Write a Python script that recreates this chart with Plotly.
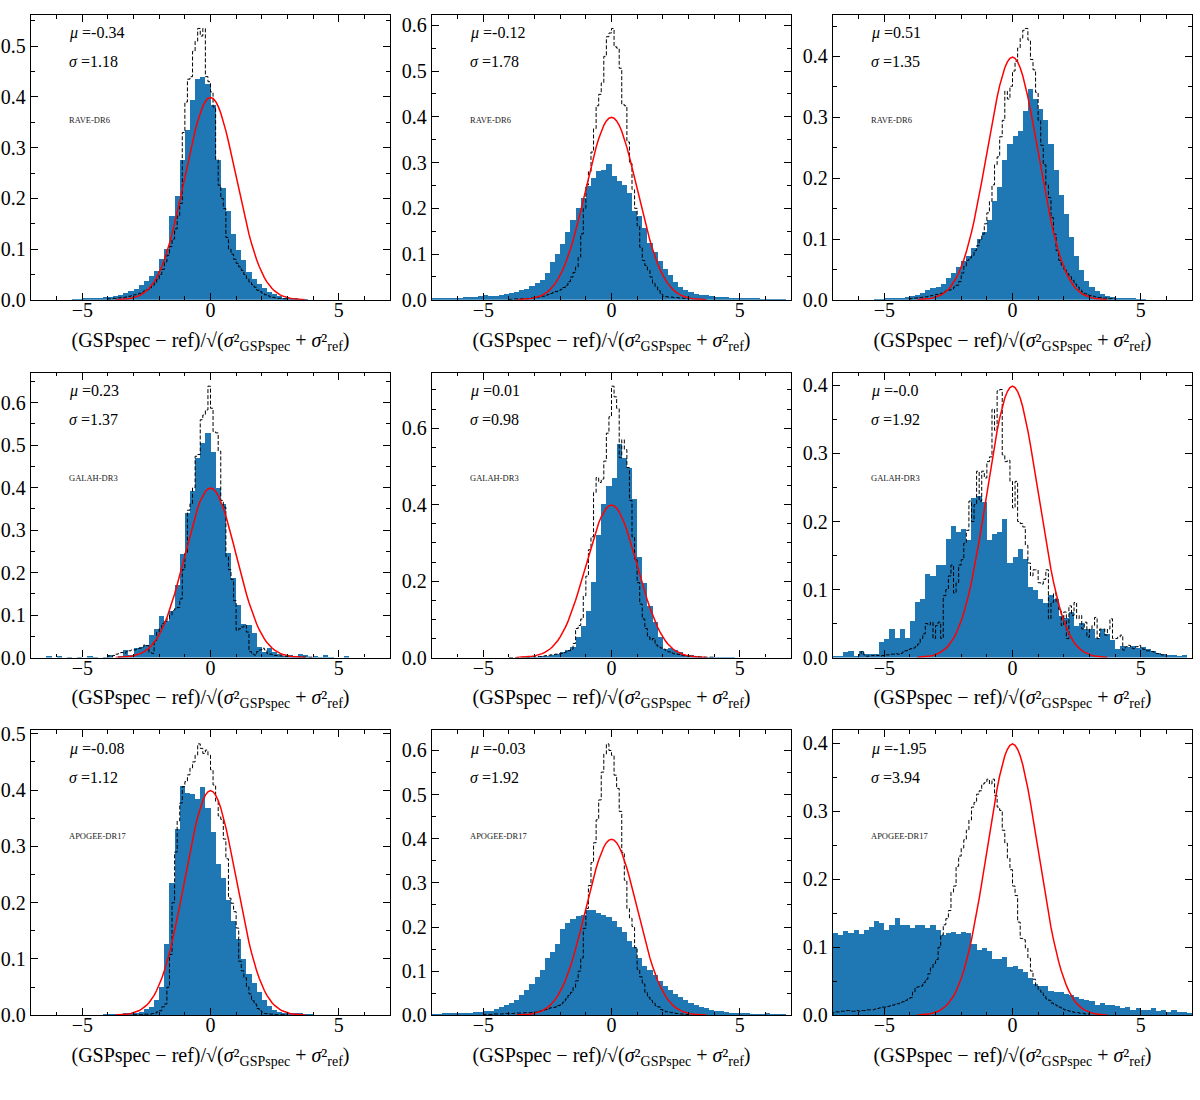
import numpy as np
import plotly.graph_objects as go
from plotly.subplots import make_subplots

# ---------------- data ----------------
SURVEYS = ["RAVE-DR6", "RAVE-DR6", "RAVE-DR6",
           "GALAH-DR3", "GALAH-DR3", "GALAH-DR3",
           "APOGEE-DR17", "APOGEE-DR17", "APOGEE-DR17"]
MU_LABELS = ["-0.34", "-0.12", "0.51", "0.23", "0.01", "-0.0", "-0.08", "-0.03", "-1.95"]
SIGMA_LABELS = ["1.18", "1.78", "1.35", "1.37", "0.98", "1.92", "1.12", "1.92", "3.94"]

# blue filled histograms: 70 bins of width 0.2 from -7 to 7
BLUE_START = -7.0
BLUE_WIDTH = 0.2
# dashed step histograms: bins of width 0.1 starting at the given edge
DASH_WIDTH = 0.1

blue_1 = [0, 0, 0, 0, 0, 0, 0, 0, 0.001, 0.001,
          0.002, 0.002, 0.003, 0.004, 0.005,
          0.006, 0.008, 0.010, 0.013, 0.017,
          0.022, 0.030, 0.038, 0.047, 0.058,
          0.080, 0.100, 0.165, 0.205, 0.275,
          0.335, 0.395, 0.435, 0.440, 0.425,
          0.385, 0.275, 0.220, 0.175, 0.130,
          0.098, 0.078, 0.055, 0.042, 0.031,
          0.023, 0.016, 0.011, 0.007, 0.004,
          0.003, 0.002, 0.001, 0.001, 0,
          0, 0, 0, 0, 0, 0, 0, 0, 0, 0, 0, 0, 0, 0, 0]
dash_1_start = -4.0
dash_1 = [0.002, 0.002, 0.003, 0.003, 0.004, 0.005, 0.005, 0.006, 0.007, 0.009,
          0.010, 0.011, 0.013, 0.015, 0.018, 0.020, 0.024, 0.028, 0.033, 0.040,
          0.050, 0.060, 0.075, 0.088, 0.105, 0.120, 0.140, 0.165, 0.190, 0.330,
          0.390, 0.435, 0.440, 0.490, 0.510, 0.535, 0.520, 0.535, 0.440, 0.430,
          0.410, 0.380, 0.277, 0.226, 0.200, 0.180, 0.123, 0.100, 0.090, 0.080,
          0.072, 0.065, 0.058, 0.050, 0.042, 0.035, 0.030, 0.025, 0.019, 0.016,
          0.013, 0.010, 0.008, 0.006, 0.005, 0.004, 0.003, 0.003, 0.002, 0.002]

blue_2 = [0.003, 0.003, 0.004, 0.004, 0.005, 0.005, 0.006, 0.006, 0.007, 0.008,
          0.010, 0.009, 0.009, 0.011, 0.013,
          0.016, 0.018, 0.021, 0.024, 0.030,
          0.037, 0.043, 0.059, 0.084, 0.100,
          0.122, 0.149, 0.174, 0.201, 0.223,
          0.248, 0.266, 0.282, 0.285, 0.297,
          0.270, 0.261, 0.251, 0.233, 0.195,
          0.183, 0.157, 0.124, 0.104, 0.086,
          0.068, 0.054, 0.040, 0.029, 0.022,
          0.017, 0.014, 0.012, 0.010, 0.008,
          0.007, 0.006, 0.006, 0.005, 0.004, 0.004, 0.003, 0.003, 0.003, 0.002,
          0.002, 0.001, 0.001, 0.001, 0.0]
dash_2_start = -4.0
dash_2 = [0.001, 0.001, 0.002, 0.002, 0.002, 0.003, 0.003, 0.003, 0.004, 0.004,
          0.005, 0.006, 0.007, 0.008, 0.010, 0.012, 0.014, 0.016, 0.018, 0.020,
          0.023, 0.027, 0.032, 0.040, 0.050, 0.060, 0.072, 0.093, 0.144, 0.200,
          0.251, 0.280, 0.323, 0.374, 0.424, 0.449, 0.474, 0.532, 0.575, 0.583,
          0.593, 0.553, 0.550, 0.506, 0.427, 0.424, 0.345, 0.298, 0.241, 0.200,
          0.162, 0.115, 0.086, 0.075, 0.065, 0.050, 0.036, 0.028, 0.020, 0.012,
          0.007, 0.007, 0.006, 0.006, 0.005, 0.005, 0.004, 0.004, 0.003, 0.003]

blue_3 = [0, 0, 0, 0, 0, 0, 0, 0, 0.001, 0.001,
          0.002, 0.002, 0.003, 0.004, 0.005,
          0.007, 0.009, 0.012, 0.016, 0.019,
          0.021, 0.026, 0.036, 0.045, 0.055,
          0.064, 0.073, 0.086, 0.101, 0.112,
          0.131, 0.162, 0.186, 0.230, 0.257,
          0.270, 0.278, 0.311, 0.346, 0.331,
          0.314, 0.295, 0.257, 0.214, 0.173,
          0.141, 0.103, 0.073, 0.049, 0.032,
          0.022, 0.014, 0.010, 0.006, 0.005,
          0.004, 0.003, 0.002, 0.002, 0.001, 0.001, 0, 0, 0, 0, 0, 0, 0, 0, 0]
dash_3_start = -4.0
dash_3 = [0.002, 0.003, 0.003, 0.004, 0.004, 0.005, 0.005, 0.006, 0.007, 0.008,
          0.009, 0.010, 0.011, 0.013, 0.015, 0.016, 0.018, 0.021, 0.024, 0.030,
          0.044, 0.055, 0.065, 0.069, 0.073, 0.081, 0.089, 0.098, 0.108, 0.125,
          0.143, 0.162, 0.189, 0.222, 0.235, 0.268, 0.295, 0.343, 0.330, 0.351,
          0.376, 0.392, 0.414, 0.430, 0.443, 0.446, 0.427, 0.395, 0.378, 0.341,
          0.295, 0.254, 0.222, 0.189, 0.168, 0.135, 0.108, 0.081, 0.065, 0.057,
          0.049, 0.043, 0.038, 0.032, 0.026, 0.021, 0.016, 0.013, 0.010, 0.008,
          0.007, 0.006, 0.005, 0.004, 0.004, 0.003, 0.003, 0.002, 0.002, 0.002]

blue_4 = [0, 0, 0, 0.004, 0, 0.003, 0, 0.002, 0, 0.002,
          0, 0.003, 0.002, 0, 0.002,
          0.008, 0, 0.003, 0.020, 0.008,
          0.023, 0.026, 0.030, 0.053, 0.068,
          0.099, 0.087, 0.111, 0.173, 0.246,
          0.341, 0.393, 0.471, 0.505, 0.529,
          0.486, 0.400, 0.362, 0.248, 0.188,
          0.124, 0.080, 0.077, 0.060, 0.026,
          0.014, 0.023, 0.015, 0.010, 0.005,
          0.006, 0.002, 0.010, 0.006, 0.002,
          0.004, 0.002, 0.006, 0.002, 0, 0, 0.004, 0, 0, 0, 0, 0, 0, 0, 0]
dash_4_start = -4.0
dash_4 = [0.004, 0.003, 0.005, 0.008, 0.010, 0.012, 0.010, 0.014, 0.016, 0.018,
          0.018, 0.020, 0.022, 0.025, 0.030, 0.028, 0.012, 0.010, 0.040, 0.060,
          0.068, 0.080, 0.085, 0.091, 0.100, 0.111, 0.115, 0.118, 0.138, 0.207,
          0.246, 0.347, 0.362, 0.400, 0.474, 0.478, 0.560, 0.571, 0.583, 0.639,
          0.587, 0.532, 0.529, 0.486, 0.370, 0.354, 0.238, 0.207, 0.184, 0.134,
          0.064, 0.068, 0.072, 0.076, 0.060, 0.014, 0.008, 0.006, 0.014, 0.018,
          0.022, 0.018, 0.010, 0.008, 0.006, 0.005, 0.004, 0.004, 0.004, 0.003,
          0.003, 0.003, 0.002, 0.002, 0.002, 0.002, 0.001, 0.001, 0.001, 0.001]

blue_5 = [0, 0, 0, 0, 0, 0, 0, 0, 0, 0,
          0, 0, 0, 0, 0,
          0, 0, 0, 0.001, 0.001,
          0.002, 0.003, 0.005, 0.007, 0.010,
          0.015, 0.022, 0.030, 0.054, 0.084,
          0.123, 0.200, 0.321, 0.402, 0.450,
          0.471, 0.561, 0.523, 0.497, 0.415,
          0.265, 0.196, 0.136, 0.093, 0.054,
          0.024, 0.026, 0.022, 0.015, 0.009,
          0.007, 0.004, 0.002, 0.002, 0.001,
          0.001, 0.001, 0.002, 0.001, 0, 0, 0, 0, 0, 0, 0, 0, 0, 0, 0]
dash_5_start = -4.0
dash_5 = [0, 0, 0, 0, 0.001, 0.001, 0.001, 0.001, 0.002, 0.002,
          0.002, 0.003, 0.003, 0.004, 0.005, 0.006, 0.007, 0.008, 0.009, 0.010,
          0.011, 0.013, 0.015, 0.018, 0.022, 0.037, 0.076, 0.084, 0.101, 0.162,
          0.213, 0.282, 0.316, 0.432, 0.471, 0.458, 0.467, 0.514, 0.587, 0.630,
          0.710, 0.682, 0.652, 0.523, 0.570, 0.544, 0.497, 0.411, 0.316, 0.256,
          0.196, 0.140, 0.101, 0.076, 0.054, 0.046, 0.050, 0.033, 0.028, 0.025,
          0.022, 0.018, 0.015, 0.012, 0.010, 0.009, 0.008, 0.006, 0.005, 0.004,
          0.004, 0.003, 0.003, 0.002, 0.002, 0.002, 0.001, 0.001, 0.001, 0.001]

blue_6 = [0.002, 0.002, 0.009, 0.010, 0.003, 0.010, 0.006, 0.006, 0.006, 0.023,
          0.028, 0.042, 0.030, 0.042, 0.030,
          0.054, 0.082, 0.086, 0.123, 0.120,
          0.136, 0.136, 0.175, 0.194, 0.185,
          0.189, 0.173, 0.235, 0.238, 0.230,
          0.173, 0.182, 0.185, 0.204, 0.139,
          0.148, 0.160, 0.146, 0.105, 0.100,
          0.086, 0.081, 0.093, 0.086, 0.062,
          0.059, 0.067, 0.047, 0.052, 0.042,
          0.042, 0.030, 0.042, 0.035, 0.026,
          0.013, 0.018, 0.016, 0.018, 0.014,
          0.016, 0.013, 0.010, 0.008, 0.006, 0.005, 0.004, 0.002, 0.004, 0]
dash_6_start = -6.0
dash_6 = [0.004, 0.009, 0.004, 0.002, 0.003, 0.003, 0.004, 0.003, 0.002, 0.003,
          0.004, 0.004, 0.005, 0.005, 0.006, 0.005, 0.006, 0.008, 0.010, 0.012,
          0.013, 0.014, 0.016, 0.020, 0.028, 0.035, 0.050, 0.048, 0.052, 0.028,
          0.047, 0.052, 0.028, 0.091, 0.100, 0.120, 0.136, 0.095, 0.110, 0.136,
          0.144, 0.168, 0.187, 0.230, 0.200, 0.225, 0.274, 0.230, 0.274, 0.264,
          0.288, 0.295, 0.365, 0.334, 0.392, 0.394, 0.298, 0.288, 0.290, 0.259,
          0.220, 0.259, 0.200, 0.197, 0.192, 0.165, 0.139, 0.120, 0.129, 0.129,
          0.110, 0.108, 0.115, 0.129, 0.057, 0.081, 0.095, 0.081, 0.071, 0.047,
          0.067, 0.028, 0.076, 0.062, 0.081, 0.057, 0.062, 0.042, 0.052, 0.030,
          0.042, 0.047, 0.059, 0.028, 0.042, 0.042, 0.033, 0.042, 0.057, 0.028,
          0.028, 0.030, 0.033, 0.011, 0.016, 0.018, 0.014, 0.013, 0.016, 0.018,
          0.013, 0.012, 0.010, 0.010, 0.009, 0.008, 0.006, 0.005, 0.004, 0.004]

blue_7 = [0, 0, 0, 0, 0, 0, 0, 0, 0, 0,
          0, 0, 0, 0, 0.001,
          0.001, 0.001, 0.001, 0.002, 0.003,
          0.004, 0.006, 0.010, 0.015, 0.026,
          0.050, 0.126, 0.234, 0.330, 0.406,
          0.395, 0.392, 0.383, 0.404, 0.368,
          0.325, 0.269, 0.243, 0.205, 0.167,
          0.135, 0.099, 0.073, 0.056, 0.041,
          0.026, 0.016, 0.009, 0.006, 0.004,
          0.003, 0.002, 0.002, 0.001, 0.001,
          0, 0, 0, 0, 0, 0, 0, 0, 0, 0, 0, 0, 0, 0, 0]
dash_7_start = -3.0
dash_7 = [0.001, 0.001, 0.001, 0.001, 0.002, 0.002, 0.002, 0.003, 0.004, 0.006,
          0.008, 0.015, 0.020, 0.050, 0.108, 0.200, 0.290, 0.345, 0.377, 0.406,
          0.415, 0.427, 0.439, 0.450, 0.462, 0.482, 0.474, 0.465, 0.471, 0.462,
          0.436, 0.409, 0.380, 0.354, 0.348, 0.313, 0.278, 0.208, 0.199, 0.184,
          0.155, 0.096, 0.079, 0.067, 0.050, 0.038, 0.026, 0.020, 0.012, 0.008,
          0.004, 0.003, 0.003, 0.002, 0.002, 0.001, 0.001, 0.001, 0.001, 0.001]

blue_8 = [0.002, 0.002, 0.003, 0.004, 0.004, 0.004, 0.005, 0.005, 0.006, 0.007,
          0.008, 0.010, 0.013, 0.017, 0.022,
          0.028, 0.034, 0.045, 0.057, 0.071,
          0.086, 0.101, 0.129, 0.142, 0.160,
          0.194, 0.209, 0.218, 0.224, 0.226,
          0.238, 0.238, 0.231, 0.227, 0.222,
          0.212, 0.200, 0.187, 0.168, 0.155,
          0.130, 0.110, 0.101, 0.090, 0.077,
          0.065, 0.056, 0.048, 0.040, 0.033,
          0.028, 0.022, 0.018, 0.015, 0.012,
          0.010, 0.008, 0.007, 0.005, 0.004, 0.003, 0.003, 0.002, 0.002, 0.002,
          0.003, 0.002, 0.001, 0.001, 0]
dash_8_start = -5.0
dash_8 = [0.002, 0.002, 0.002, 0.002, 0.003, 0.003, 0.003, 0.003, 0.004, 0.004,
          0.004, 0.004, 0.005, 0.005, 0.005, 0.005, 0.006, 0.006, 0.006, 0.007,
          0.007, 0.008, 0.010, 0.011, 0.013, 0.015, 0.017, 0.018, 0.019, 0.022,
          0.026, 0.030, 0.037, 0.045, 0.052, 0.063, 0.078, 0.100, 0.130, 0.197,
          0.242, 0.294, 0.346, 0.391, 0.443, 0.488, 0.551, 0.592, 0.615, 0.600,
          0.589, 0.544, 0.514, 0.462, 0.369, 0.306, 0.242, 0.220, 0.201, 0.153,
          0.104, 0.087, 0.071, 0.052, 0.041, 0.034, 0.028, 0.022, 0.019, 0.013,
          0.010, 0.008, 0.007, 0.006, 0.005, 0.004, 0.003, 0.003, 0.002, 0.002]

blue_9 = [0.120, 0.118, 0.123, 0.120, 0.125, 0.119, 0.125, 0.129, 0.138, 0.135,
          0.125, 0.133, 0.142, 0.132, 0.133,
          0.128, 0.132, 0.133, 0.128, 0.132,
          0.125, 0.118, 0.120, 0.122, 0.119,
          0.122, 0.120, 0.105, 0.096, 0.098,
          0.094, 0.083, 0.082, 0.085, 0.070,
          0.072, 0.067, 0.063, 0.055, 0.046,
          0.042, 0.043, 0.036, 0.034, 0.034,
          0.031, 0.030, 0.027, 0.024, 0.022,
          0.021, 0.014, 0.018, 0.014, 0.014,
          0.013, 0.011, 0.012, 0.008, 0.010, 0.007, 0.008, 0.010, 0.006, 0.008,
          0.005, 0.007, 0.005, 0.005, 0.002]
dash_9_start = -7.0
dash_9 = [0.004, 0.005, 0.005, 0.006, 0.006, 0.007, 0.007, 0.006, 0.006, 0.007,
          0.006, 0.007, 0.007, 0.008, 0.008, 0.008, 0.009, 0.010, 0.011, 0.012,
          0.012, 0.013, 0.014, 0.015, 0.016, 0.017, 0.019, 0.020, 0.022, 0.024,
          0.026, 0.034, 0.041, 0.042, 0.043, 0.048, 0.053, 0.061, 0.070, 0.076,
          0.082, 0.100, 0.118, 0.133, 0.142, 0.154, 0.181, 0.190, 0.219, 0.234,
          0.246, 0.258, 0.272, 0.287, 0.306, 0.313, 0.325, 0.330, 0.340, 0.342,
          0.347, 0.340, 0.347, 0.323, 0.306, 0.301, 0.272, 0.253, 0.231, 0.214,
          0.190, 0.176, 0.137, 0.113, 0.111, 0.099, 0.084, 0.065, 0.053, 0.043,
          0.037, 0.034, 0.029, 0.024, 0.022, 0.018, 0.016, 0.014, 0.012, 0.010,
          0.008, 0.007, 0.006, 0.005, 0.004, 0.004, 0.003, 0.003, 0.002, 0.002]

BLUE = [blue_1, blue_2, blue_3, blue_4, blue_5, blue_6, blue_7, blue_8, blue_9]
DASH = [dash_1, dash_2, dash_3, dash_4, dash_5, dash_6, dash_7, dash_8, dash_9]
DASH_START = [dash_1_start, dash_2_start, dash_3_start, dash_4_start, dash_5_start,
              dash_6_start, dash_7_start, dash_8_start, dash_9_start]

# reference standard normal curve N(0, 1)
GAUSS_RANGE = (-3.7, 3.7)

# ---------------- style ----------------
FONT = "Liberation Serif"
BLUE_COLOR = "#1f77b4"
X_RANGE = [-7, 7]
Y_DTICK = [0.1, 0.1, 0.1, 0.1, 0.2, 0.1, 0.1, 0.1, 0.1]
COL_X = [(31, 390), (432, 791), (833, 1192)]
ROW_Y = [(7, 297), (371, 661), (735, 1025)]
W, H = 1200, 1100

XTITLE = ("(GSPspec − ref)/√(<i>σ</i>²<sub>GSPspec</sub> + <i>σ</i>²<sub>ref</sub>)")

fig = make_subplots(rows=3, cols=3)

gx = np.linspace(GAUSS_RANGE[0], GAUSS_RANGE[1], 75)
gy = np.exp(-0.5 * gx ** 2) / np.sqrt(2 * np.pi)

for k in range(9):
    r, c = k // 3 + 1, k % 3 + 1
    b = np.asarray(BLUE[k], dtype=float)
    b_centers = BLUE_START + BLUE_WIDTH * (np.arange(len(b)) + 0.5)
    fig.add_trace(go.Bar(x=b_centers, y=b, width=BLUE_WIDTH,
                         marker=dict(color=BLUE_COLOR, line=dict(width=0)),
                         showlegend=False, hoverinfo="skip"), row=r, col=c)

    d = np.asarray(DASH[k], dtype=float)
    edges = DASH_START[k] + DASH_WIDTH * np.arange(len(d) + 1)
    sx = np.concatenate([[edges[0]], edges[:-1], [edges[-1]]])
    sy = np.concatenate([[0.0], d, [0.0]])
    fig.add_trace(go.Scatter(x=sx, y=sy, mode="lines", line_shape="hv",
                             line=dict(color="black", width=1, dash="4px,2px"),
                             showlegend=False, hoverinfo="skip"), row=r, col=c)

    fig.add_trace(go.Scatter(x=gx, y=gy, mode="lines",
                             line=dict(color="red", width=1.5),
                             showlegend=False, hoverinfo="skip"), row=r, col=c)

    ymax = 1.05 * max(b.max(), d.max(), gy.max())
    ax = "" if k == 0 else str(k + 1)
    x0, x1 = COL_X[c - 1]
    y0, y1 = ROW_Y[r - 1]
    fig.layout["xaxis" + ax].update(
        domain=[x0 / W, x1 / W], range=X_RANGE,
        tickmode="linear", tick0=0, dtick=5,
        ticks="inside", ticklen=7, tickwidth=1, tickcolor="black",
        minor=dict(ticks="inside", dtick=1, ticklen=3.5, tickwidth=0.8, tickcolor="black"),
        showline=True, linecolor="black", linewidth=1.3, mirror="allticks",
        showgrid=False, zeroline=False, ticklabelstandoff=-8,
        tickfont=dict(family=FONT, size=20, color="black"),
        title=dict(text=XTITLE, font=dict(family=FONT, size=20, color="black"), standoff=12),
    )
    fig.layout["yaxis" + ax].update(
        domain=[1 - y1 / H, 1 - y0 / H], range=[0, ymax],
        tickmode="linear", tick0=0, dtick=Y_DTICK[k], tickformat=".1f",
        ticks="inside", ticklen=7, tickwidth=1, tickcolor="black",
        minor=dict(ticks="inside", dtick=0.05, ticklen=3.5, tickwidth=0.8, tickcolor="black"),
        showline=True, linecolor="black", linewidth=1.3, mirror="allticks",
        showgrid=False, zeroline=False,
        tickfont=dict(family=FONT, size=20, color="black"),
    )
    xref = "x" + ax + " domain"
    yref = "y" + ax + " domain"
    fig.add_annotation(x=0.1, y=0.935, xref=xref, yref=yref, xanchor="left", yanchor="middle",
                       text="<i>μ</i> =" + MU_LABELS[k], showarrow=False,
                       font=dict(family=FONT, size=16, color="black"))
    fig.add_annotation(x=0.1, y=0.835, xref=xref, yref=yref, xanchor="left", yanchor="middle",
                       text="<i>σ</i> =" + SIGMA_LABELS[k], showarrow=False,
                       font=dict(family=FONT, size=16, color="black"))
    fig.add_annotation(x=0.1, y=0.63, xref=xref, yref=yref, xanchor="left", yanchor="middle",
                       text=SURVEYS[k], showarrow=False,
                       font=dict(family=FONT, size=8.5, color="#222222"))

fig.update_layout(width=W, height=H, margin=dict(l=0, r=0, t=0, b=0),
                  plot_bgcolor="white", paper_bgcolor="white",
                  bargap=0, barmode="overlay")

fig.write_html("out.html", config={"displayModeBar": False},
               post_script="document.body.style.margin='0';document.body.style.overflow='hidden';")
